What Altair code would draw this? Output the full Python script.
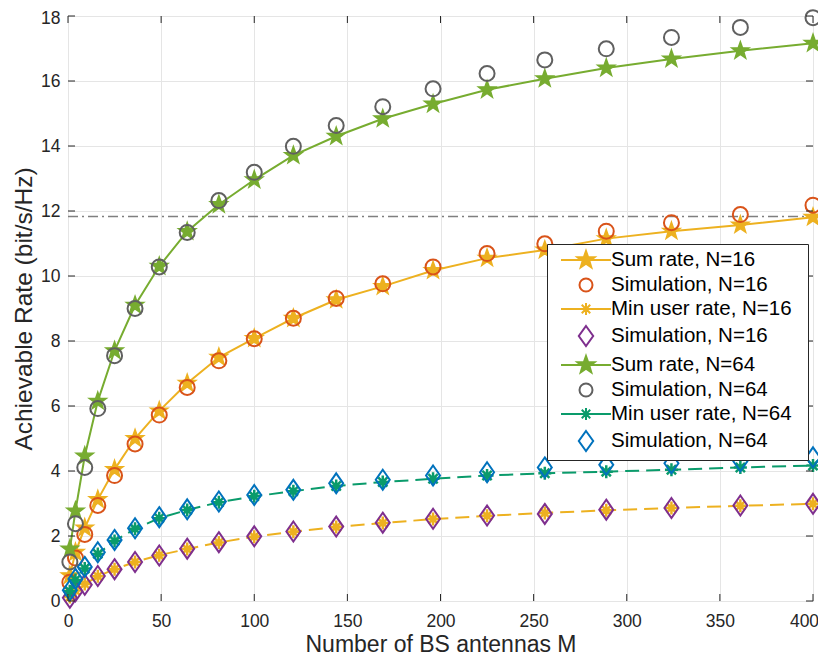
import json
import numpy as np
import pandas as pd
import altair as alt

# ---------------- data ----------------
M = [1, 4, 9, 16, 25, 36, 49, 64, 81, 100, 121, 144, 169, 196, 225, 256, 289, 324, 361, 400]

SUM16 = [0.78, 1.50, 2.25, 3.12, 4.05, 5.00, 5.85, 6.70, 7.50, 8.08,
         8.70, 9.27, 9.68, 10.17, 10.55, 10.80, 11.15, 11.38, 11.57, 11.81]
SIM_SUM16 = [0.58, 1.32, 2.05, 2.94, 3.86, 4.83, 5.72, 6.57, 7.39, 8.07,
             8.70, 9.31, 9.76, 10.28, 10.69, 10.99, 11.38, 11.64, 11.89, 12.18]
MIN16 = [0.12, 0.32, 0.52, 0.76, 0.98, 1.20, 1.41, 1.60, 1.80, 1.98,
         2.13, 2.28, 2.40, 2.52, 2.62, 2.71, 2.79, 2.86, 2.93, 2.99]
SIM_MIN16 = [0.10, 0.30, 0.50, 0.77, 0.98, 1.20, 1.40, 1.61, 1.81, 1.99,
             2.14, 2.29, 2.41, 2.53, 2.63, 2.68, 2.81, 2.86, 2.94, 2.99]

SUM64 = [1.60, 2.77, 4.46, 6.15, 7.70, 9.10, 10.30, 11.37, 12.20, 12.96,
         13.71, 14.30, 14.84, 15.29, 15.73, 16.07, 16.40, 16.68, 16.93, 17.16]
SIM_SUM64 = [1.20, 2.38, 4.11, 5.92, 7.55, 9.00, 10.28, 11.34, 12.32, 13.19,
             13.99, 14.63, 15.21, 15.76, 16.23, 16.65, 16.99, 17.34, 17.65, 17.95]
MIN64 = [0.30, 0.65, 1.00, 1.45, 1.85, 2.22, 2.55, 2.80, 3.04, 3.22,
         3.38, 3.54, 3.66, 3.76, 3.86, 3.93, 3.98, 4.04, 4.11, 4.17]
SIM_MIN64 = [0.33, 0.68, 1.05, 1.50, 1.88, 2.24, 2.58, 2.82, 3.06, 3.26,
             3.42, 3.62, 3.73, 3.86, 3.96, 4.11, 4.19, 4.24, 4.30, 4.42]

BOUND = 11.83
X_RANGE = [0, 400]
Y_RANGE = [0, 18]
X_TICKS = [0, 50, 100, 150, 200, 250, 300, 350, 400]
Y_TICKS = [0, 2, 4, 6, 8, 10, 12, 14, 16, 18]

LABELS = ["Sum rate, N=16", "Simulation, N=16", "Min user rate, N=16", "Simulation, N=16",
          "Sum rate, N=64", "Simulation, N=64", "Min user rate, N=64", "Simulation, N=64"]
KEYS = [str(i) for i in range(len(LABELS))]

# ---------------- style ----------------
C_YEL = "#EDB120"
C_ORG = "#D95319"
C_PUR = "#7E2F8E"
C_GRN = "#77AC30"
C_GRY = "#606060"
C_TEA = "#0A9B6B"
C_BLU = "#0072BD"
AX = "#262626"
FONT = "Liberation Sans"
W, H = 745, 585


def star_path(r, inner=0.40):
    pts = []
    for i in range(10):
        a = -np.pi / 2 + i * np.pi / 5
        rr = r if i % 2 == 0 else r * inner
        pts.append((rr * np.cos(a), rr * np.sin(a)))
    return "M" + "L".join(f"{x:.3f},{y:.3f}" for x, y in pts) + "Z"


def aster_path(r):
    d = r * 0.707
    return (f"M{-r},0L{r},0M0,{-r}L0,{r}"
            f"M{-d:.3f},{-d:.3f}L{d:.3f},{d:.3f}M{-d:.3f},{d:.3f}L{d:.3f},{-d:.3f}")


def diamond_path(w, h):
    return f"M0,{-h}L{w},0L0,{h}L{-w},0Z"


def circle_path(r):
    return f"M{r},0A{r},{r} 0 1,1 {-r},0A{r},{r} 0 1,1 {r},0Z"


LINE_SEG = "M-2.5,0L2.5,0"
LEG_SHAPES = [LINE_SEG + star_path(0.9), circle_path(0.65), LINE_SEG + aster_path(0.6), diamond_path(0.72, 1.0),
              LINE_SEG + star_path(0.9), circle_path(0.65), LINE_SEG + aster_path(0.6), diamond_path(0.72, 1.0)]
LEG_STROKE = [C_YEL, C_ORG, C_YEL, C_PUR, C_GRN, C_GRY, C_TEA, C_BLU]
LEG_FILL = [C_YEL, "transparent", C_YEL, "transparent", C_GRN, "transparent", C_TEA, "transparent"]

x_enc = alt.X("M:Q", scale=alt.Scale(domain=X_RANGE, nice=False, zero=False),
              axis=alt.Axis(values=X_TICKS, title="Number of BS antennas M", grid=True,
                            gridColor="#E5E5E5", gridWidth=1, domain=False, ticks=False, tickSize=0,
                            labelFont=FONT, labelFontSize=17.5, labelColor=AX, labelPadding=11,
                            labelFlush=False, labelOverlap=False, format="d",
                            labelOffset=alt.ExprRef("datum.value == 400 ? -9 : 0"),
                            titleFont=FONT, titleFontSize=23, titleFontWeight="normal",
                            titleColor=AX, titleBaseline="alphabetic", titleY=50))
y_enc = alt.Y("v:Q", scale=alt.Scale(domain=Y_RANGE, nice=False, zero=False),
              axis=alt.Axis(values=Y_TICKS, title="Achievable Rate (bit/s/Hz)", grid=True,
                            gridColor="#E5E5E5", gridWidth=1, domain=False, ticks=False, tickSize=0,
                            labelFont=FONT, labelFontSize=17.5, labelColor=AX, labelPadding=8,
                            labelFlush=False, labelOverlap=False, format="d",
                            labelOffset=alt.ExprRef("datum.value == 18 ? 2 : 0"),
                            titleFont=FONT, titleFontSize=24.5, titleFontWeight="normal",
                            titleColor=AX, titlePadding=4))


def df(vals):
    return pd.DataFrame({"M": M, "v": vals})


def line(vals, color, dash=None):
    kw = dict(color=color, strokeWidth=2)
    if dash:
        kw["strokeDash"] = dash
    return alt.Chart(df(vals)).mark_line(**kw).encode(x=x_enc, y=y_enc)


def pts(vals, shape, size, stroke, fill="transparent", sw=2.0):
    return alt.Chart(df(vals)).mark_point(shape=shape, size=size, stroke=stroke, fill=fill,
                                          strokeWidth=sw, opacity=1, filled=False).encode(x=x_enc, y=y_enc)


STAR = star_path(1.0)
ASTER = aster_path(1.0)
DIAM = diamond_path(0.7, 1.0)

bound = alt.Chart(pd.DataFrame({"M": X_RANGE, "v": [BOUND, BOUND]})).mark_line(
    color="#7F7F7F", strokeWidth=1.5, strokeDash=[10, 4, 2, 4]).encode(x=x_enc, y=y_enc)

layers = [
    bound,
    line(SUM16, C_YEL), pts(SUM16, STAR, 324, C_YEL, C_YEL, 1.5),
    pts(SIM_SUM16, "circle", 225, C_ORG),
    line(MIN16, C_YEL, [14, 7]), pts(MIN16, ASTER, 169, C_YEL, sw=2.5),
    pts(SIM_MIN16, DIAM, 400, C_PUR),
    line(SUM64, C_GRN), pts(SUM64, STAR, 324, C_GRN, C_GRN, 1.5),
    pts(SIM_SUM64, "circle", 225, C_GRY),
    line(MIN64, C_TEA, [14, 7]), pts(MIN64, ASTER, 169, C_TEA, sw=2.5),
    pts(SIM_MIN64, DIAM, 400, C_BLU),
]

# inward ticks on all four sides
xt = pd.DataFrame({"M": X_TICKS})
yt = pd.DataFrame({"v": Y_TICKS})
layers += [
    alt.Chart(xt).mark_rule(color=AX, strokeWidth=1).encode(x=x_enc, y=alt.value(H), y2=alt.value(H - 7)),
    alt.Chart(xt).mark_rule(color=AX, strokeWidth=1).encode(x=x_enc, y=alt.value(0), y2=alt.value(7)),
    alt.Chart(yt).mark_rule(color=AX, strokeWidth=1).encode(y=y_enc, x=alt.value(0), x2=alt.value(7)),
    alt.Chart(yt).mark_rule(color=AX, strokeWidth=1).encode(y=y_enc, x=alt.value(W), x2=alt.value(W - 7)),
]

label_expr = json.dumps([s + "\u00a0\u00a0\u200b" for s in LABELS]) + "[toNumber(datum.value)]"
fill_expr = json.dumps(LEG_FILL) + "[toNumber(datum.value)]"
stroke_expr = json.dumps(LEG_STROKE) + "[toNumber(datum.value)]"

legend_layer = alt.Chart(pd.DataFrame({"key": KEYS})).mark_point(clip=True, opacity=1).encode(
    x=alt.value(-200), y=alt.value(-200),
    stroke=alt.Stroke("key:N", scale=alt.Scale(domain=KEYS, range=LEG_STROKE), legend=None),
    fill=alt.Fill("key:N", scale=alt.Scale(domain=KEYS, range=LEG_FILL), legend=None),
    shape=alt.Shape("key:N", scale=alt.Scale(domain=KEYS, range=LEG_SHAPES),
                    legend=alt.Legend(title=None, orient="none", legendX=479, legendY=228,
                                      labelExpr=label_expr, labelFont=FONT, labelFontSize=20.5,
                                      labelColor="#000000", labelLimit=400, labelOffset=14,
                                      symbolSize=400, symbolOffset=23, symbolStrokeWidth=2,
                                      symbolFillColor=alt.ExprRef(fill_expr),
                                      symbolStrokeColor=alt.ExprRef(stroke_expr),
                                      rowPadding=2, padding=5, strokeColor=AX, fillColor="white",
                                      cornerRadius=0)),
)
layers.append(legend_layer)

chart = alt.layer(*layers).properties(
    width=W, height=H,
    autosize=alt.AutoSizeParams(type="none"),
    padding={"left": 60, "top": 8, "right": 5, "bottom": 55},
).configure_view(stroke=AX, strokeWidth=1).configure(background="white")

chart.save("out.html", embed_options={"renderer": "svg", "actions": False})
